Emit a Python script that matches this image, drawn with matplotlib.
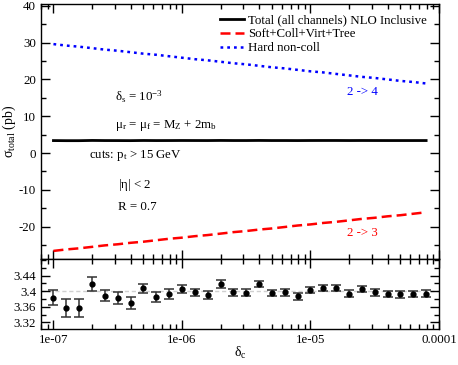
import matplotlib
matplotlib.use("Agg")
import matplotlib.pyplot as plt
from matplotlib.ticker import MultipleLocator, LogLocator, NullFormatter
import numpy as np

plt.rcParams['font.family'] = ['Liberation Serif', 'DejaVu Serif']
plt.rcParams['mathtext.fontset'] = 'custom'
plt.rcParams['mathtext.rm'] = 'Liberation Serif'
plt.rcParams['mathtext.it'] = 'Liberation Serif'
plt.rcParams['mathtext.default'] = 'rm'
plt.rcParams['axes.unicode_minus'] = False

# delta_c values (0.1 decade steps from 1e-7)
delta_c = [1.00e-07, 1.26e-07, 1.58e-07, 2.00e-07, 2.51e-07, 3.16e-07, 3.98e-07, 5.01e-07,
           6.31e-07, 7.94e-07, 1.00e-06, 1.26e-06, 1.58e-06, 2.00e-06, 2.51e-06, 3.16e-06,
           3.98e-06, 5.01e-06, 6.31e-06, 7.94e-06, 1.00e-05, 1.26e-05, 1.58e-05, 2.00e-05,
           2.51e-05, 3.16e-05, 3.98e-05, 5.01e-05, 6.31e-05, 7.94e-05]

# total NLO cross section (pb) and MC errors
total = [3.384, 3.357, 3.357, 3.419, 3.389, 3.382, 3.369, 3.408, 3.385, 3.392,
         3.406, 3.397, 3.391, 3.418, 3.397, 3.396, 3.419, 3.396, 3.397, 3.387,
         3.403, 3.409, 3.409, 3.394, 3.405, 3.397, 3.393, 3.392, 3.393, 3.394]
total_err = [0.019, 0.022, 0.022, 0.018, 0.015, 0.015, 0.015, 0.012, 0.013, 0.013,
             0.011, 0.010, 0.010, 0.010, 0.009, 0.009, 0.0085, 0.0085, 0.0085, 0.0085,
             0.0085, 0.008, 0.008, 0.008, 0.008, 0.008, 0.008, 0.008, 0.008, 0.008]

# soft+coll+virt+tree (2 -> 3) and hard non-coll (2 -> 4)
soft = [-26.6, -26.2, -25.9, -25.5, -25.1, -24.8, -24.4, -24.1, -23.7, -23.3,
        -23.0, -22.6, -22.3, -21.9, -21.5, -21.2, -20.8, -20.5, -20.1, -19.7,
        -19.4, -19.0, -18.7, -18.3, -17.9, -17.6, -17.2, -16.9, -16.5, -16.1]
hard = [29.6, 29.2, 28.9, 28.5, 28.1, 27.8, 27.4, 27.0, 26.7, 26.3,
        25.9, 25.5, 25.2, 24.8, 24.4, 24.1, 23.7, 23.3, 23.0, 22.6,
        22.2, 21.9, 21.5, 21.1, 20.7, 20.4, 20.0, 19.6, 19.3, 18.9]

labels = ["Total (all channels) NLO Inclusive", "Soft+Coll+Virt+Tree", "Hard non-coll"]
xtick_vals = [1e-7, 1e-6, 1e-5, 1e-4]
xtick_labels = ["1e-07", "1e-06", "1e-05", "0.0001"]
ytick_low = [3.32, 3.36, 3.40, 3.44]
ytick_low_labels = ["3.32", "3.36", "3.4", "3.44"]

fs = 9.3
fig = plt.figure(figsize=(4.58, 3.65), dpi=100)
ax = fig.add_axes([41/458, 1 - 259/365, 398/458, 255/365])
ax2 = fig.add_axes([41/458, 1 - 329/365, 398/458, 70/365], sharex=ax)

ax.plot(delta_c, total, color='black', lw=2.0, label=labels[0])
ax.plot(delta_c, soft, color='#ff0000', lw=1.8, dashes=(4, 2), label=labels[1])
ax.plot(delta_c, hard, color='#0000ff', lw=1.8, dashes=(1.1, 1.6), label=labels[2])

ax.set_xscale('log')
ax.set_xlim(8.0e-8, 1e-4)
ax.set_ylim(-28.8, 40.5)
ax.yaxis.set_major_locator(MultipleLocator(10))
ax.yaxis.set_minor_locator(MultipleLocator(5))
ax.set_ylabel(r'$\sigma_{total}$ (pb)', fontsize=10)
ax.yaxis.set_label_coords(-0.058, 0.5)

ax.legend(loc='upper right', bbox_to_anchor=(0.99, 0.99), frameon=False, fontsize=fs,
          handlelength=1.85, handletextpad=0.35, labelspacing=0.15, borderaxespad=0.2)

tkw = dict(fontsize=fs, ha='left', va='center', transform=ax.transAxes)
ax.text(0.185, 0.635, r'$\delta_s$ = 10$^{-3}$', **tkw)
ax.text(0.185, 0.525, r'$\mu_r$ = $\mu_f$ = M$_Z$ + 2m$_b$', **tkw)
ax.text(0.12, 0.405, r'cuts: p$_t$ > 15 GeV', **tkw)
ax.text(0.193, 0.29, r'|$\eta$| < 2', **tkw)
ax.text(0.193, 0.205, 'R = 0.7', **tkw)
ax.text(0.77, 0.653, '2 -> 4', color='#0000ff', **tkw)
ax.text(0.77, 0.10, '2 -> 3', color='#ff0000', **tkw)

ax2.axhline(3.4, color='#d0d0d0', lw=1.0, dashes=(3, 2), zorder=0)
ax2.errorbar(delta_c, total, yerr=total_err, fmt='o', color='black', ms=3.5,
             ecolor='#333333', elinewidth=1.1, capsize=3.8, capthick=1.1)
ax2.set_ylim(3.303, 3.483)
ax2.set_yticks(ytick_low, ytick_low_labels)
ax2.yaxis.set_minor_locator(MultipleLocator(0.02))
ax2.set_xticks(xtick_vals, xtick_labels)
ax2.xaxis.set_minor_locator(LogLocator(base=10, subs=np.arange(2, 10)))
ax2.xaxis.set_minor_formatter(NullFormatter())
ax2.set_xlim(8.0e-8, 1e-4)
ax2.set_xlabel(r'$\delta_c$', fontsize=10)
ax2.xaxis.set_label_coords(0.5, -0.23)

for a in (ax, ax2):
    a.tick_params(which='both', direction='in', top=True, right=True, labelsize=fs, width=1.0)
    a.tick_params(which='major', length=6.5)
    a.tick_params(which='minor', length=3.5)
    for s in a.spines.values():
        s.set_linewidth(1.0)
ax.tick_params(labelbottom=False)

fig.savefig('out.png', dpi=100)
